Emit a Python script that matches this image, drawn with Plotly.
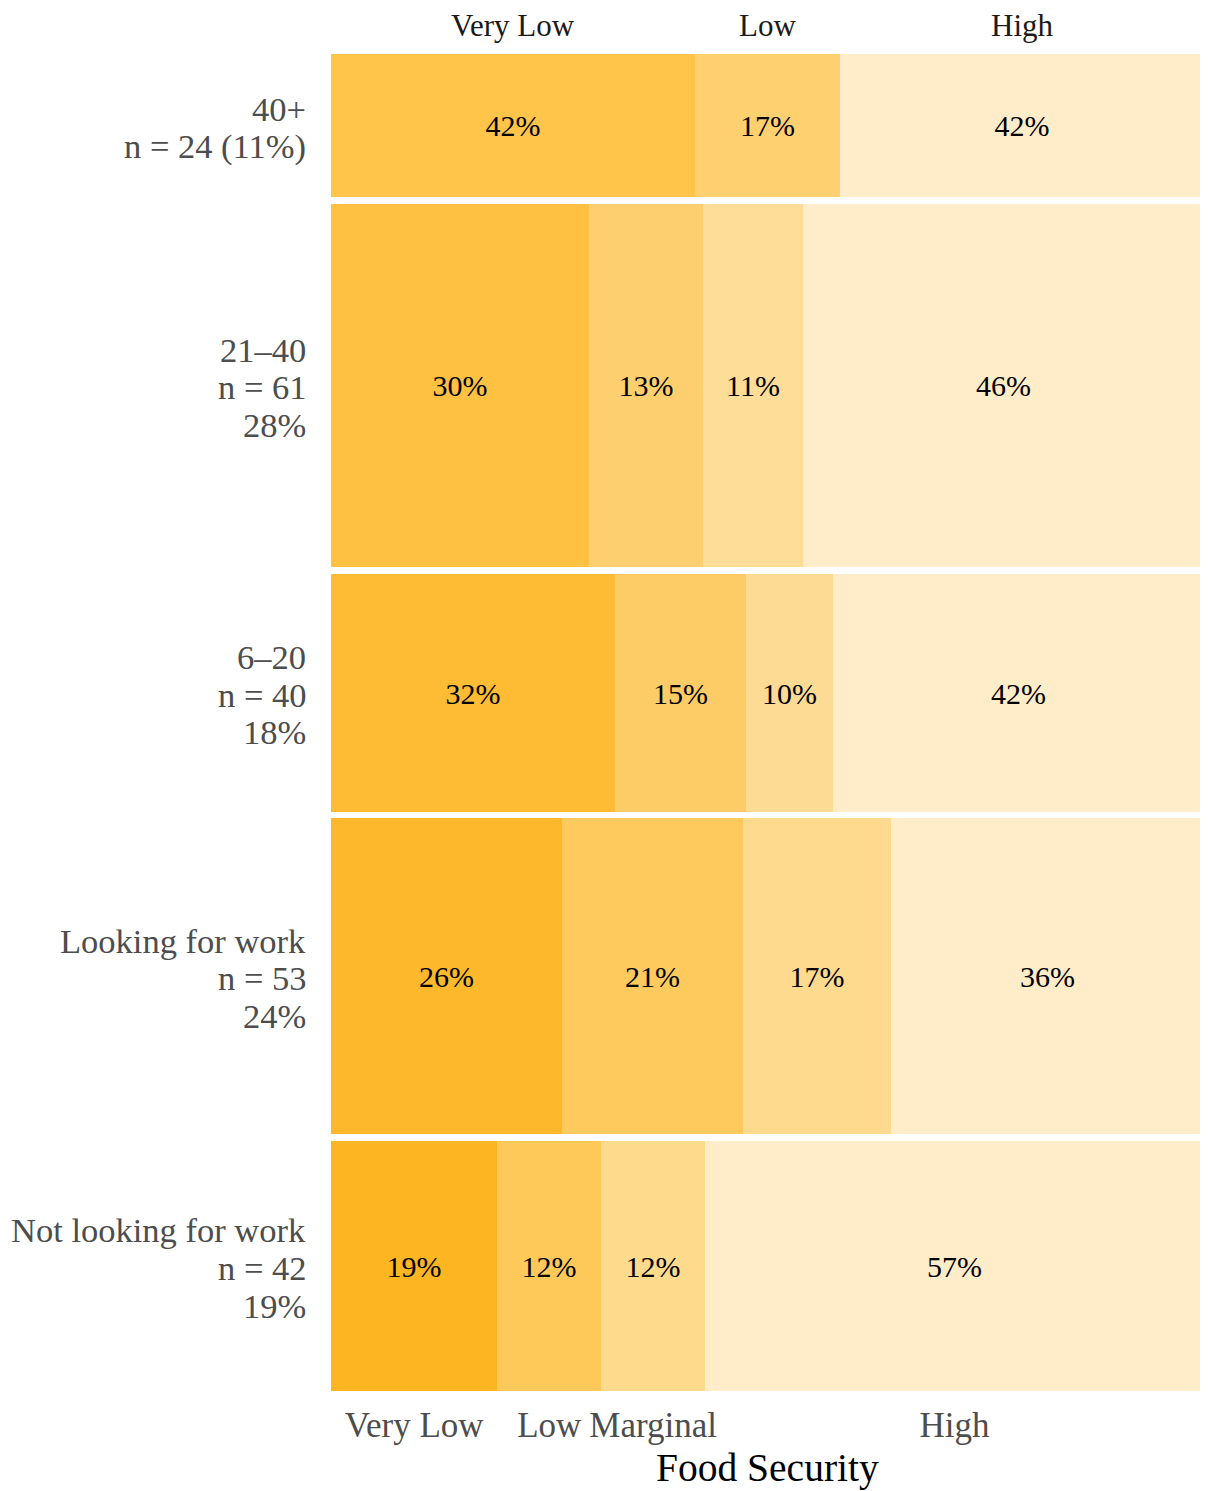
import plotly.graph_objects as go

# ---------------- data ----------------
rows = ["40+", "21–40", "6–20", "Looking for work", "Not looking for work"]
n_row = [24, 61, 40, 53, 42]
row_share_pct = [11, 28, 18, 24, 19]

categories = ["Very Low", "Low", "Marginal", "High"]
counts_very_low = [10, 18, 13, 14, 8]
counts_low = [4, 8, 6, 11, 5]
counts_marginal = [0, 7, 4, 9, 5]
counts_high = [10, 28, 17, 19, 24]

pct_very_low = [42, 30, 32, 26, 19]
pct_low = [17, 13, 15, 21, 12]
pct_marginal = [None, 11, 10, 17, 12]
pct_high = [42, 46, 42, 36, 57]

axis_title = "Food Security"

# ---------------- styles ----------------
FONT = "Liberation Serif"
colors = {
    "Very Low": ["#FFC54B", "#FEC142", "#FDBC34", "#FDB92B", "#FDB621"],
    "Low": ["#FFD06F", "#FECF6E", "#FECC66", "#FECA5E", "#FEC958"],
    "Marginal": ["#FEDD98", "#FEDD98", "#FEDB94", "#FEDA8F", "#FEDA8C"],
    "High": ["#FFECC9", "#FFECC9", "#FFECC9", "#FFECC9", "#FFECC9"],
}
GAP = 1.1  # vertical spacing between rows (data units)

counts = [counts_very_low, counts_low, counts_marginal, counts_high]
pcts = [pct_very_low, pct_low, pct_marginal, pct_high]

# row positions (top to bottom)
centers = []
pos = 0.0
for i, n in enumerate(n_row):
    centers.append(pos + n / 2)
    pos += n + (GAP if i < len(n_row) - 1 else 0)
total = pos

fig = go.Figure()
bases_all = []
cum = [0.0] * len(rows)
for ci, cat in enumerate(categories):
    frac = [c / n for c, n in zip(counts[ci], n_row)]
    bases = cum[:]
    bases_all.append((bases, frac))
    text = [("" if p is None else f"{p}%") for p in pcts[ci]]
    fig.add_trace(go.Bar(
        orientation="h", y=centers, x=frac, base=bases, width=n_row,
        marker=dict(color=colors[cat], line=dict(width=0)),
        text=text, textposition="inside", insidetextanchor="middle",
        textangle=0, constraintext="none",
        textfont=dict(family=FONT, size=30, color="black"),
        hoverinfo="skip", showlegend=False,
    ))
    cum = [b + f for b, f in zip(cum, frac)]

annotations = []
# top labels (categories of the first row)
for ci, cat in enumerate(categories):
    b, f = bases_all[ci][0][0], bases_all[ci][1][0]
    if f > 0:
        annotations.append(dict(x=b + f / 2, xref="x", y=1, yref="paper",
                                text=cat, showarrow=False, yanchor="middle",
                                yshift=29, font=dict(family=FONT, size=31, color="#1A1A1A")))

# row labels
LINE = 37.7
for i, name in enumerate(rows):
    if i == 0:
        lines = [name, f"n = {n_row[i]} ({row_share_pct[i]}%)"]
    else:
        lines = [name, f"n = {n_row[i]}", f"{row_share_pct[i]}%"]
    m = len(lines)
    for k, line in enumerate(lines):
        annotations.append(dict(x=0, xref="paper", y=centers[i], yref="y",
                                text=line, showarrow=False, xanchor="right",
                                yanchor="middle", xshift=-23,
                                yshift=((m - 1) / 2 - k) * LINE - 2,
                                font=dict(family=FONT, size=34.5, color="#4D4D4D")))

annotations.append(dict(x=0.5, xref="paper", y=0, yref="paper", text=axis_title,
                        showarrow=False, yanchor="middle", yshift=-77,
                        font=dict(family=FONT, size=39.5, color="black")))

# bottom ticks from the last row
last = len(rows) - 1
tickvals, ticktext = [], []
for ci, cat in enumerate(categories):
    b, f = bases_all[ci][0][last], bases_all[ci][1][last]
    if f > 0:
        tickvals.append(b + f / 2)
        ticktext.append(cat)

fig.update_layout(
    width=1200, height=1483,
    margin=dict(l=323, r=4, t=46, b=100),
    plot_bgcolor="white", paper_bgcolor="white",
    bargap=0, barmode="overlay",
    annotations=annotations,
    xaxis=dict(range=[0, 1], tickvals=tickvals, ticktext=ticktext,
               tickfont=dict(family=FONT, size=35, color="#4D4D4D"),
               showgrid=False, zeroline=False, showline=False,
               ticks="outside", ticklen=3, tickcolor="rgba(0,0,0,0)"),
    yaxis=dict(range=[total, 0], showticklabels=False, showgrid=False,
               zeroline=False, showline=False),
)

fig.write_html("out.html")
